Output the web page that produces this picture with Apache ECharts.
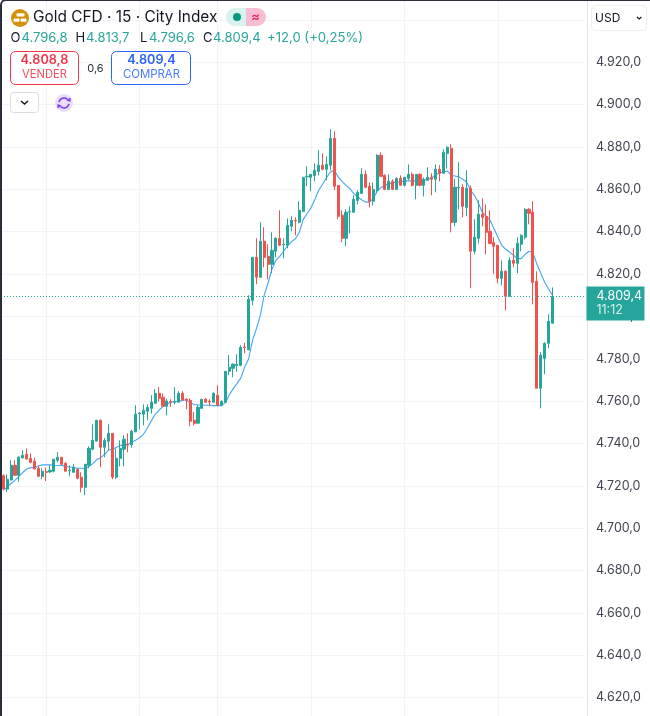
<!DOCTYPE html>
<html>
<head>
<meta charset="utf-8">
<style>html,body{margin:0;padding:0;background:#fff}#chart{width:650px;height:716px}</style>
<script src="https://cdn.jsdelivr.net/npm/echarts@6/dist/echarts.min.js"></script>
</head>
<body>
<div id="chart"></div>
<script>
// 15-minute Gold CFD candles: [open, close, low, high]
const candles = [
[4724.8,4718.5,4718.5,4725.5],[4718.5,4723.1,4717.1,4725.5],[4722.8,4729.7,4722.6,4732.1],[4729.7,4725.0,4724.7,4732.1],
[4725.0,4733.5,4721.9,4734.0],[4733.2,4734.4,4733.0,4736.8],[4734.9,4732.7,4732.4,4737.6],[4733.0,4731.1,4730.7,4735.4],
[4731.6,4728.0,4727.8,4733.3],[4728.3,4724.5,4724.1,4729.2],[4724.5,4726.9,4723.1,4728.3],[4726.7,4726.4,4722.3,4728.6],
[4726.6,4727.4,4726.1,4729.7],[4726.9,4732.6,4726.4,4732.6],[4732.1,4733.5,4731.1,4735.9],[4733.5,4730.2,4729.7,4733.5],
[4730.7,4726.9,4726.9,4731.1],[4727.1,4727.4,4724.5,4729.7],[4726.4,4728.8,4726.4,4730.2],[4727.8,4723.6,4723.1,4728.3],
[4724.1,4719.3,4717.0,4726.4],[4719.3,4730.2,4715.6,4730.2],[4729.7,4737.7,4728.3,4738.7],[4737.3,4741.5,4736.8,4749.1],
[4741.1,4751.0,4741.1,4751.0],[4751.0,4738.2,4728.8,4751.3],[4738.2,4741.5,4733.5,4742.5],[4741.1,4744.8,4736.8,4749.1],
[4744.8,4724.1,4723.1,4744.8],[4724.1,4733.0,4723.1,4737.7],[4733.0,4737.7,4729.2,4741.5],[4737.3,4742.0,4729.2,4743.9],
[4739.6,4739.2,4735.9,4744.8],[4739.4,4745.8,4738.0,4746.5],[4745.5,4753.8,4745.5,4758.1],[4754.1,4754.4,4746.7,4754.9],
[4753.8,4755.7,4748.6,4758.5],[4755.2,4757.0,4751.0,4758.5],[4756.6,4759.5,4754.1,4762.8],[4759.0,4763.7,4759.0,4765.6],
[4763.7,4761.4,4759.9,4766.6],[4761.8,4757.6,4757.6,4763.7],[4757.6,4760.1,4753.3,4761.2],[4759.8,4759.5,4757.3,4760.9],
[4759.5,4759.9,4758.5,4766.6],[4759.5,4763.7,4759.5,4764.7],[4763.7,4760.6,4760.1,4764.7],[4760.9,4760.4,4756.2,4761.5],
[4760.4,4750.5,4748.1,4761.4],[4751.0,4749.4,4748.6,4754.9],[4749.6,4757.1,4749.6,4758.1],[4756.6,4760.9,4756.6,4760.9],
[4760.9,4759.5,4759.5,4761.5],[4759.9,4759.6,4757.6,4760.9],[4759.5,4763.7,4759.5,4764.2],[4762.8,4758.1,4757.6,4767.5],
[4758.1,4759.9,4757.6,4760.4],[4759.5,4774.1,4759.2,4774.1],[4774.1,4776.0,4772.2,4781.7],[4775.5,4777.4,4771.3,4777.9],
[4776.8,4777.4,4773.8,4782.1],[4776.9,4785.4,4776.5,4786.4],[4785.6,4785.3,4782.6,4787.5],[4784.3,4808.1,4784.0,4810.0],
[4807.6,4827.9,4805.3,4827.9],[4827.9,4818.5,4815.2,4836.9],[4818.5,4835.5,4818.5,4844.5],[4835.5,4827.9,4823.2,4842.1],
[4828.4,4824.6,4817.5,4834.1],[4824.6,4831.2,4820.4,4839.7],[4830.8,4836.9,4827.9,4837.4],[4836.9,4833.6,4833.6,4850.1],
[4833.8,4834.1,4827.5,4836.9],[4833.6,4843.0,4832.2,4846.3],[4842.6,4845.4,4840.2,4847.3],[4845.4,4845.1,4838.3,4846.8],
[4844.5,4850.1,4844.0,4854.4],[4849.6,4865.7,4849.6,4865.7],[4865.9,4866.2,4861.5,4870.9],[4865.7,4867.1,4859.1,4867.1],
[4866.6,4869.0,4863.8,4872.3],[4868.5,4871.4,4866.6,4878.5],[4871.4,4869.5,4869.0,4877.0],[4869.5,4871.8,4864.3,4875.6],
[4871.4,4884.1,4869.0,4888.4],[4884.1,4861.5,4859.6,4887.4],[4861.9,4847.3,4845.9,4861.9],[4847.8,4836.9,4835.0,4850.1],
[4836.9,4849.2,4833.1,4850.6],[4849.3,4849.6,4839.3,4852.0],[4849.2,4855.3,4849.2,4857.2],[4854.8,4858.6,4852.9,4859.6],
[4858.1,4867.1,4858.1,4869.9],[4867.1,4861.0,4860.5,4869.0],[4861.4,4854.4,4851.5,4863.3],[4854.4,4860.0,4852.5,4863.3],
[4859.6,4876.1,4858.1,4876.6],[4876.1,4866.2,4865.7,4877.5],[4866.6,4860.0,4859.6,4867.1],[4860.0,4863.8,4859.6,4867.1],
[4863.8,4860.0,4860.0,4864.8],[4860.0,4865.2,4860.0,4865.7],[4865.2,4861.9,4861.9,4866.6],[4861.9,4865.7,4861.4,4865.7],
[4865.2,4867.1,4864.3,4871.8],[4867.1,4861.9,4861.4,4868.0],[4861.9,4867.1,4855.3,4867.1],[4867.1,4861.9,4861.4,4867.6],
[4861.9,4864.8,4856.7,4865.7],[4864.3,4865.7,4864.3,4870.4],[4865.7,4864.8,4857.2,4867.6],[4864.8,4869.5,4858.6,4871.8],
[4869.5,4867.6,4863.8,4871.4],[4867.6,4877.5,4867.6,4878.9],[4877.0,4879.9,4869.9,4880.3],[4879.4,4844.4,4839.7,4881.3],
[4844.4,4861.0,4842.6,4864.8],[4860.7,4861.0,4850.6,4872.8],[4861.0,4852.0,4846.8,4862.4],[4851.5,4860.5,4847.3,4869.0],
[4860.5,4830.8,4813.3,4861.9],[4830.8,4837.4,4829.3,4845.9],[4836.9,4848.2,4834.5,4854.8],[4848.2,4846.8,4842.6,4855.8],
[4847.3,4839.7,4829.3,4852.9],[4840.2,4834.5,4834.1,4850.1],[4835.0,4833.1,4819.9,4837.4],[4833.6,4818.0,4815.6,4833.6],
[4818.0,4821.3,4814.7,4826.5],[4821.3,4809.5,4802.9,4821.8],[4809.5,4826.5,4809.5,4827.9],[4826.5,4825.1,4823.2,4832.2],
[4825.1,4834.5,4820.4,4837.4],[4834.1,4838.3,4830.8,4838.8],[4837.4,4850.6,4836.4,4851.1],[4850.6,4848.7,4843.5,4851.1],
[4849.2,4816.1,4805.7,4854.4],[4816.6,4766.1,4766.1,4821.3],[4766.1,4781.7,4756.6,4783.1],[4780.2,4787.3,4772.7,4787.8],
[4787.3,4797.7,4785.0,4801.0],[4796.8,4809.4,4796.6,4813.7]
];

// Moving average overlay, one value per candle
const movingAverage = [
4717.9,4719.5,4721.1,4722.6,4724.5,4726.3,4728.0,4728.6,4728.6,4729.4,4729.9,4729.9,4729.9,4729.7,4729.6,4729.6,
4729.2,4728.9,4728.8,4728.3,4728.3,4728.1,4729.2,4730.5,4732.4,4733.3,4734.9,4736.8,4737.4,4738.1,4739.0,4739.5,
4739.6,4740.6,4741.5,4742.8,4744.4,4747.3,4750.7,4753.8,4755.7,4757.4,4758.5,4759.5,4759.8,4759.9,4760.3,4760.7,
4759.2,4758.4,4758.2,4758.2,4758.1,4758.1,4757.9,4757.9,4757.9,4759.2,4762.8,4765.8,4768.3,4771.0,4776.2,4779.9,
4788.7,4794.2,4800.5,4810.0,4815.8,4822.3,4826.5,4828.4,4830.8,4833.4,4835.2,4836.7,4839.6,4845.7,4848.5,4851.2,
4855.2,4859.6,4862.4,4865.5,4868.2,4869.0,4865.9,4863.8,4861.9,4860.4,4858.0,4856.4,4855.1,4854.0,4854.0,4855.6,
4859.2,4860.8,4861.9,4862.7,4863.0,4863.5,4863.5,4864.0,4864.0,4864.0,4864.0,4864.3,4864.3,4864.9,4865.2,4867.1,
4867.7,4868.2,4868.7,4866.6,4866.3,4865.9,4864.8,4863.5,4859.6,4857.2,4853.6,4849.3,4847.3,4845.4,4841.5,4837.5,
4833.6,4831.7,4830.4,4828.9,4827.3,4827.3,4829.3,4830.8,4830.0,4824.9,4820.5,4816.3,4813.1,4810.0
];

// Bar slots on the time axis; the last few stay empty to the right of the latest candle
const slotCount = 150;
const categories = Array.from({length: slotCount}, (_, i) => String(i));
// Slots that carry a session grid line
const sessionSlots = [11, 35, 55, 79, 103, 127];
// Price axis settings and the ticks whose labels sit under the toolbar
const priceMin = 4600, priceMax = 4960, priceStep = 20;
const hiddenPriceTicks = [4600, 4940, 4960];
// Quote header
const lastBar = {open: 4796.8, high: 4813.7, low: 4796.6, close: 4809.4};
const lastChange = '+12,0 (+0,25%)';
const bid = 4808.8, ask = 4809.4, spread = '0,6';
const barCountdown = '11:12';

const UP = '#26a69a', DOWN = '#ef5350', FONT = 'Inter, "Noto Sans", sans-serif';
const fmt = v => v.toFixed(1).replace('.', ',').replace(/^(\d)(\d{3})/, '$1.$2');

const txt = (x, y, text, fill, size, extra) => ({
  type: 'text', x, y, silent: true, z: 50,
  style: Object.assign({text, fill, fontSize: size, fontFamily: FONT, textAlign: 'left', textVerticalAlign: 'middle'}, extra || {})
});
const box = (x, y, w, h, r, stroke, fill) => ({
  type: 'rect', silent: true, z: 49, shape: {x, y, width: w, height: h, r},
  style: {fill: fill || '#fff', stroke, lineWidth: 1}
});

const chart = echarts.init(document.getElementById('chart'));
chart.setOption({
  animation: false,
  backgroundColor: '#ffffff',
  grid: {left: 1.35, top: -22.4, width: 584.1, height: 762.4, containLabel: false, outerBoundsMode: 'none'},
  xAxis: {
    type: 'category', data: categories, boundaryGap: true,
    axisLine: {show: false}, axisTick: {show: false}, axisLabel: {show: false},
    splitLine: {show: true, alignWithLabel: true, interval: i => sessionSlots.includes(i), lineStyle: {color: '#f2f3f5', width: 1}}
  },
  yAxis: {
    type: 'value', position: 'right', min: priceMin, max: priceMax, interval: priceStep, offset: 2,
    axisLine: {show: true, lineStyle: {color: '#e0e3eb', width: 1}}, axisTick: {show: false},
    axisLabel: {
      margin: 8.5, color: '#434651', fontSize: 12.5, fontFamily: FONT, padding: [0, 0, 4, 0],
      formatter: v => hiddenPriceTicks.includes(v) ? '' : fmt(v)
    },
    splitLine: {show: true, lineStyle: {color: '#f2f3f5', width: 1}}
  },
  series: [
    {
      type: 'line', name: 'MA', data: movingAverage, symbol: 'none', z: 2, silent: true,
      lineStyle: {color: '#42a5f5', width: 1.1}
    },
    {
      type: 'candlestick', name: 'Gold CFD', data: candles, z: 3, barWidth: 2.6, silent: true,
      itemStyle: {color: UP, color0: DOWN, borderColor: UP, borderColor0: DOWN, borderWidth: 1},
      markLine: {
        silent: true, symbol: 'none', animation: false,
        lineStyle: {color: UP, type: [1, 2], dashOffset: 0.35, width: 1},
        label: {
          show: true, position: 'end', distance: 1, offset: [0, 7],
          backgroundColor: '#26a69a', padding: [3, 6, 3, 10], width: 42, align: 'left',
          formatter: () => '{a|' + fmt(lastBar.close) + '}\n{b|' + barCountdown + '}',
          rich: {
            a: {color: '#ffffff', fontSize: 12.5, fontFamily: FONT, lineHeight: 14},
            b: {color: '#d6efec', fontSize: 12.5, fontFamily: FONT, lineHeight: 14}
          }
        },
        data: [{yAxis: lastBar.close}]
      }
    }
  ],
  graphic: {elements: [
    // Window edge
    {type: 'rect', silent: true, z: 60, shape: {x: 1, y: 0, width: 720, height: 800, r: 5}, style: {fill: 'transparent', stroke: '#2a2e39', lineWidth: 2}},

    // Symbol icon: gold bars on a coin
    {type: 'circle', silent: true, z: 49, shape: {cx: 20, cy: 18, r: 9}, style: {fill: '#d4920c'}},
    {type: 'rect', silent: true, z: 50, shape: {x: 16.5, y: 13.2, width: 8, height: 3.4, r: 1}, style: {fill: '#fff'}},
    {type: 'rect', silent: true, z: 50, shape: {x: 13.5, y: 18.6, width: 6, height: 3.2, r: 1}, style: {fill: '#fff'}},
    {type: 'rect', silent: true, z: 50, shape: {x: 20.5, y: 18.6, width: 6, height: 3.2, r: 1}, style: {fill: '#fff'}},
    txt(33, 17.5, 'Gold CFD · 15 · City Index', '#131722', 15.4),

    // Market status pills
    {type: 'rect', silent: true, z: 49, shape: {x: 226, y: 8, width: 21, height: 18, r: [9, 0, 0, 9]}, style: {fill: '#daf1ee'}},
    {type: 'rect', silent: true, z: 49, shape: {x: 246, y: 8, width: 20, height: 18, r: [0, 9, 9, 0]}, style: {fill: '#f7bdd2'}},
    {type: 'circle', silent: true, z: 50, shape: {cx: 237, cy: 17, r: 4}, style: {fill: '#089981'}},
    txt(255.5, 17, '≈', '#e91e63', 13, {textAlign: 'center', fontWeight: 600}),

    // OHLC line
    txt(10.5, 38.5, 'O', '#131722', 13),
    txt(21.5, 38.5, fmt(lastBar.open), UP, 13),
    txt(75.5, 38.5, 'H', '#131722', 13),
    txt(86, 38.5, fmt(lastBar.high), UP, 13),
    txt(140, 38.5, 'L', '#131722', 13),
    txt(149, 38.5, fmt(lastBar.low), UP, 13),
    txt(203, 38.5, 'C', '#131722', 13),
    txt(213, 38.5, fmt(lastBar.close), UP, 13),
    txt(267, 38.5, lastChange, UP, 13.1),

    // Sell / buy buttons
    box(10.5, 51.5, 68, 33, 5, '#f23645'),
    txt(44.5, 60.5, fmt(bid), '#f23645', 12.7, {textAlign: 'center', fontWeight: 600}),
    txt(44.5, 75, 'VENDER', '#f4505e', 11.2, {textAlign: 'center'}),
    txt(95.5, 68.5, spread, '#2a2e39', 11, {textAlign: 'center'}),
    box(111.5, 51.5, 79, 33, 5, '#2962ff'),
    txt(151.5, 60.5, fmt(ask), '#2962ff', 12.7, {textAlign: 'center', fontWeight: 600}),
    txt(151.5, 75, 'COMPRAR', '#4a7bff', 11.4, {textAlign: 'center'}),

    // Collapse button
    box(10.5, 92.5, 28, 20, 3, '#d9dbe0'),
    {type: 'polyline', silent: true, z: 50, shape: {points: [[21, 101], [24.5, 104], [28, 101]]}, style: {fill: 'none', stroke: '#131722', lineWidth: 1.4}},

    // Sync badge
    {type: 'circle', silent: true, z: 49, shape: {cx: 64, cy: 103, r: 9}, style: {fill: '#e6defb'}},
    {type: 'arc', silent: true, z: 50, shape: {cx: 64, cy: 103, r: 5, startAngle: Math.PI * 1.05, endAngle: Math.PI * 1.75}, style: {fill: 'none', stroke: '#7c3aed', lineWidth: 1.6}},
    {type: 'arc', silent: true, z: 50, shape: {cx: 64, cy: 103, r: 5, startAngle: Math.PI * 0.05, endAngle: Math.PI * 0.75}, style: {fill: 'none', stroke: '#7c3aed', lineWidth: 1.6}},
    {type: 'polygon', silent: true, z: 50, shape: {points: [[70.5, 97.5], [70.5, 102], [66.5, 100.5]]}, style: {fill: '#7c3aed'}},
    {type: 'polygon', silent: true, z: 50, shape: {points: [[57.5, 108.5], [57.5, 104], [61.5, 105.5]]}, style: {fill: '#7c3aed'}},

    // Currency selector
    box(591.5, 5.5, 55, 25, 4, '#eceef1'),
    txt(595, 18, 'USD', '#131722', 12),
    {type: 'polyline', silent: true, z: 50, shape: {points: [[637, 17], [639.2, 19], [641.4, 17]]}, style: {fill: 'none', stroke: '#131722', lineWidth: 1.2}}
  ]}
});
</script>
</body>
</html>
